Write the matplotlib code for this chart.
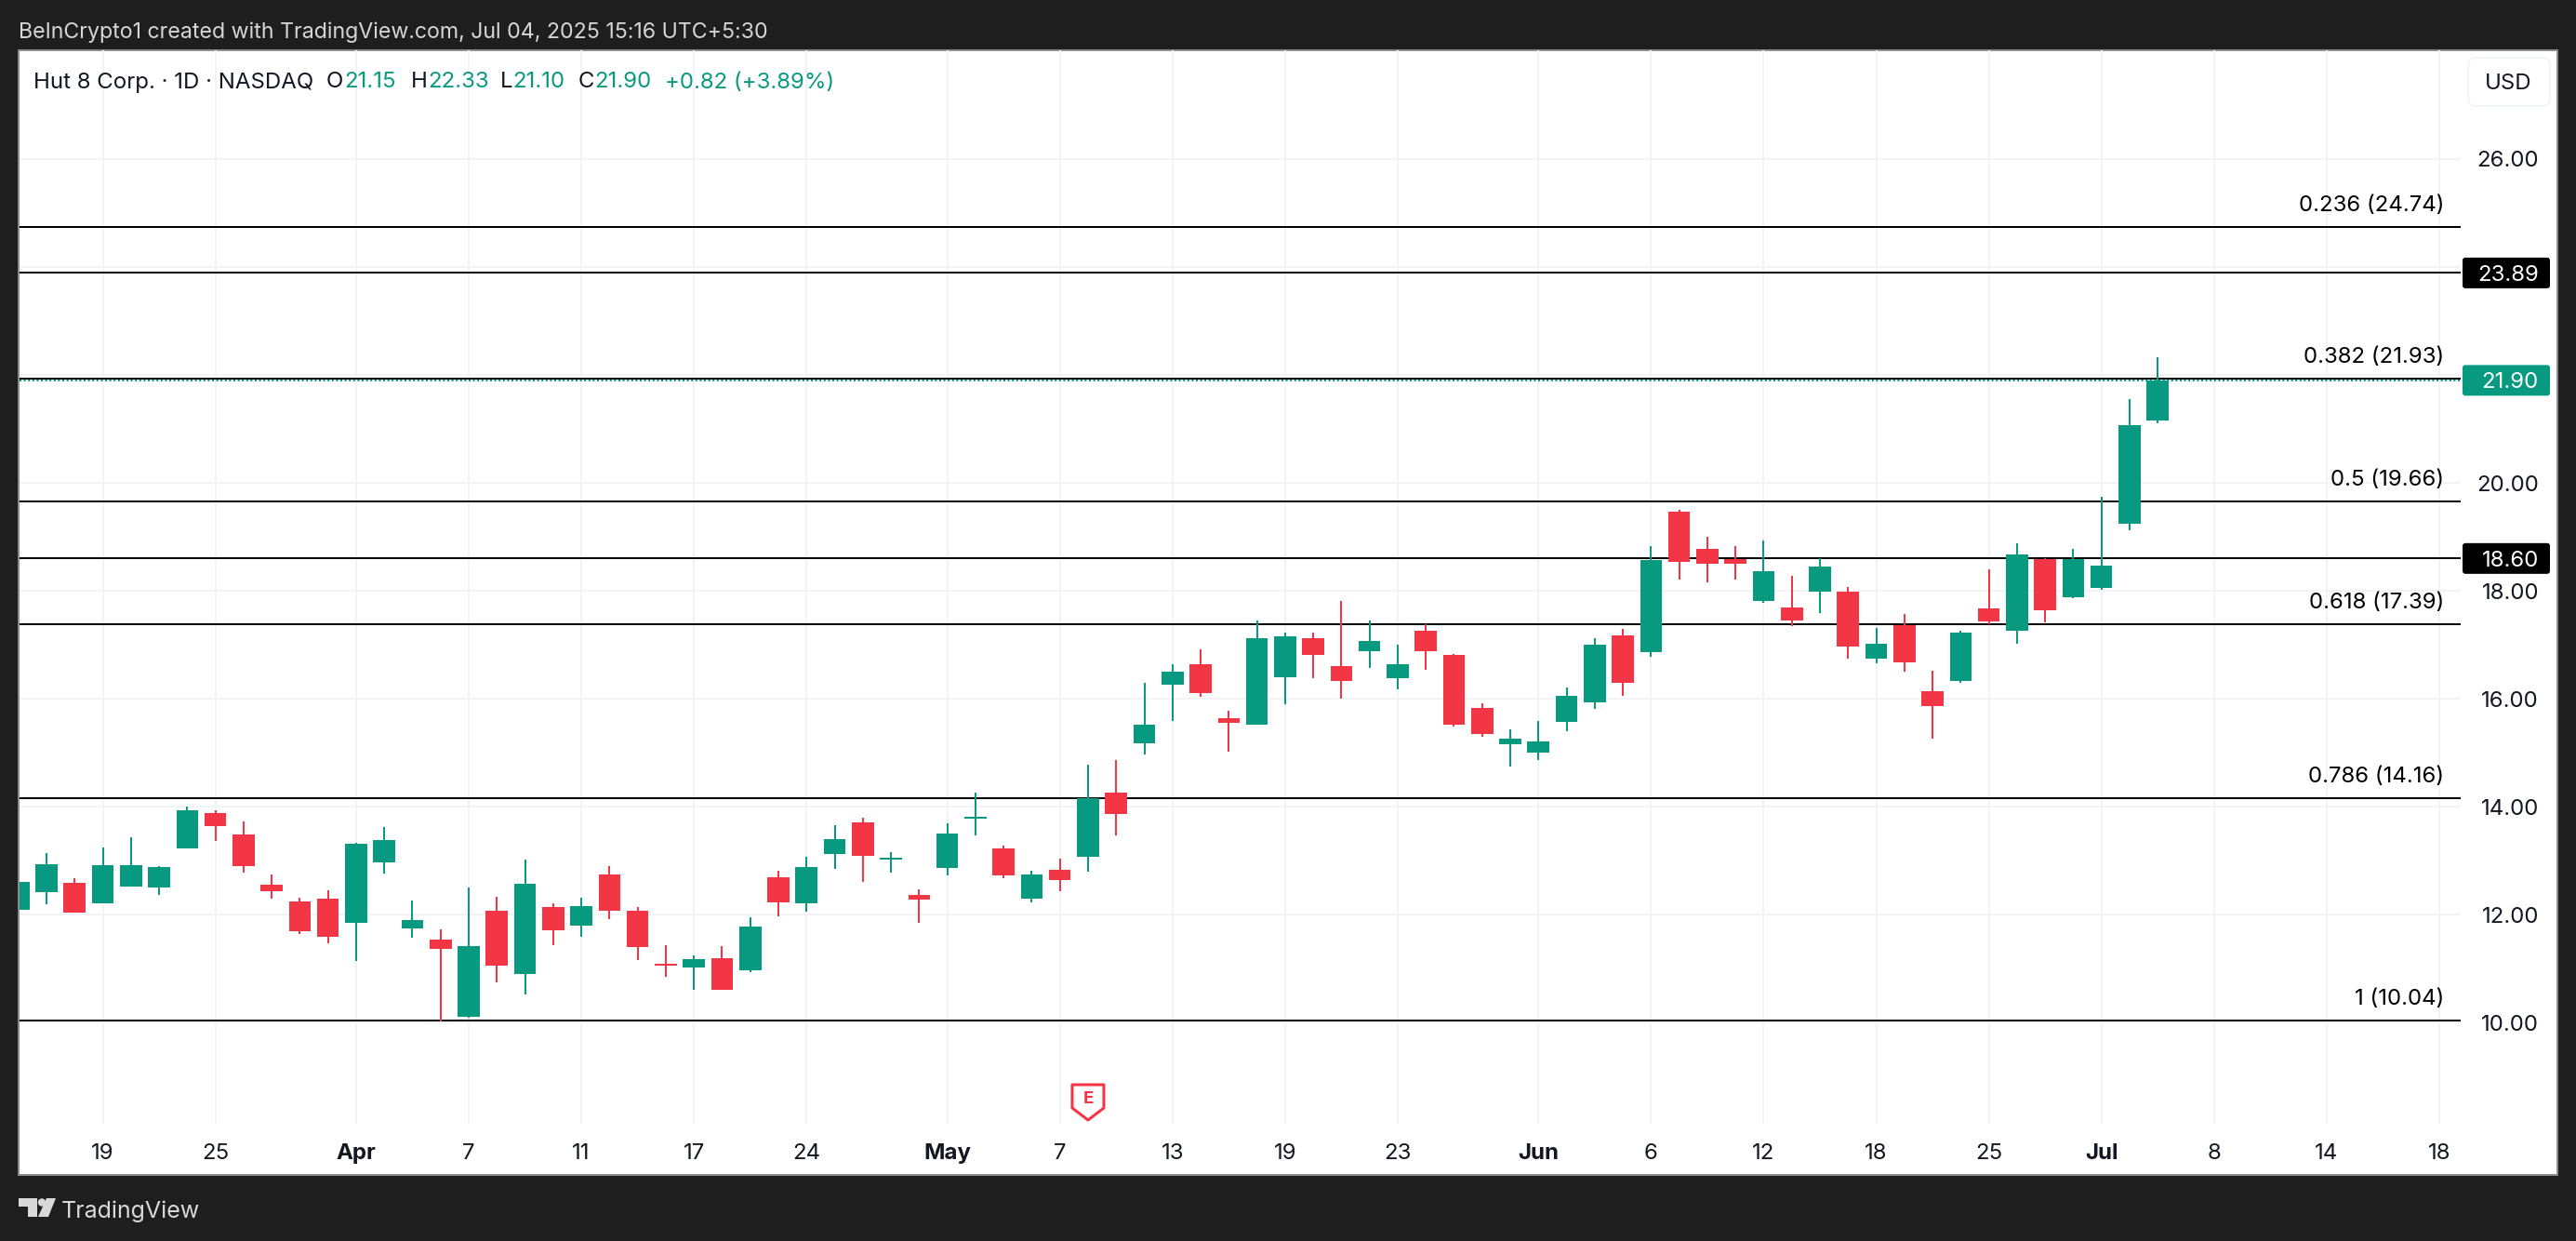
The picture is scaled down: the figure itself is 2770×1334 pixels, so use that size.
import matplotlib
matplotlib.use("Agg")
import matplotlib.pyplot as plt
from matplotlib.patches import FancyBboxPatch, Polygon, Rectangle, Circle

# ---------- data (one row per trading session, Mar 14 to Jul 3 2025) ----------
highs = [12.71,13.14,12.68,13.25,13.43,12.90,14.00,13.94,13.73,12.75,12.32,12.45,13.33,13.62,12.26,11.73,
         12.50,12.33,13.02,12.21,12.32,12.90,12.14,11.44,11.25,11.42,11.95,12.81,13.07,13.66,13.80,13.16,
         12.47,13.69,14.26,13.28,12.81,13.04,14.78,14.87,16.30,16.64,16.92,15.78,17.45,17.23,17.23,17.81,
         17.45,17.00,17.38,16.83,15.92,15.43,15.59,16.21,17.12,17.30,18.83,19.50,19.00,18.83,18.93,18.28,
         18.61,18.07,17.31,17.57,16.52,17.26,18.40,18.88,18.60,18.78,19.74,21.55,22.33]
lows = [12.00,12.19,12.04,12.21,12.52,12.37,13.23,13.37,12.78,12.30,11.64,11.47,11.14,12.76,11.57,10.03,
        10.09,10.75,10.52,11.44,11.59,11.92,11.16,10.85,10.61,10.61,10.94,11.97,12.06,12.85,12.61,12.78,
        11.85,12.73,13.47,12.68,12.23,12.44,12.80,13.47,14.97,15.59,16.04,15.02,15.52,15.90,16.38,16.00,
        16.57,16.18,16.54,15.49,15.30,14.75,14.87,15.40,15.81,16.06,16.78,18.21,18.16,18.21,17.78,17.35,
        17.59,16.74,16.66,16.50,15.26,16.30,17.38,17.02,17.42,17.86,18.02,19.12,21.10]
opens = [12.09,12.42,12.59,12.21,12.52,12.50,13.23,13.88,13.49,12.56,12.25,12.30,11.85,12.97,11.75,11.54,
         10.11,12.07,10.90,12.14,11.80,12.75,12.07,11.09,11.02,11.19,10.97,12.69,12.21,13.12,13.71,13.02,
         12.37,12.87,13.78,13.23,12.30,12.83,13.07,14.26,15.18,16.26,16.64,15.64,15.52,16.40,17.12,16.61,
         16.88,16.38,17.26,16.81,15.83,15.16,15.00,15.57,15.94,17.18,16.87,19.47,18.78,18.59,17.81,17.69,
         17.99,17.99,16.74,17.36,16.14,16.33,17.68,17.26,18.59,17.88,18.05,19.25,21.15]
closes = [12.61,12.94,12.04,12.92,12.92,12.88,13.94,13.64,12.90,12.44,11.69,11.59,13.31,13.38,11.90,11.37,
          11.42,11.06,12.57,11.71,12.16,12.07,11.40,11.06,11.18,10.61,11.78,12.23,12.88,13.40,13.09,13.06,
          12.28,13.50,13.81,12.73,12.75,12.64,14.16,13.87,15.52,16.50,16.10,15.55,17.12,17.16,16.81,16.33,
          17.07,16.64,16.88,15.52,15.35,15.26,15.21,16.06,17.00,16.30,18.57,18.54,18.50,18.50,18.36,17.45,
          18.45,16.97,17.02,16.68,15.87,17.23,17.43,18.68,17.64,18.59,18.47,21.07,21.90]

price_ticks = [10, 12, 14, 16, 18, 20, 22, 24, 26]
price_labels = ["10.00", "12.00", "14.00", "16.00", "18.00", "20.00", "", "", "26.00"]
date_ticks = [3, 7, 12, 16, 20, 24, 28, 33, 37, 41, 45, 49, 54, 58, 62, 66, 70, 74, 78, 82, 86]
date_labels = ["19", "25", "Apr", "7", "11", "17", "24", "May", "7", "13", "19", "23", "Jun", "6", "12", "18",
               "25", "Jul", "8", "14", "18"]
month_labels = ["Apr", "May", "Jun", "Jul"]

fib_ratios = ["0.236", "0.382", "0.5", "0.618", "0.786", "1"]
fib_levels = [24.74, 21.93, 19.66, 17.39, 14.16, 10.04]
extra_levels = [23.89, 18.60]
earnings_session = 38
legend_change = "+0.82 (+3.89%)"

# ---------- styling ----------
W, H = 2770, 1334
BG, INK, UP, DOWN, GRID = "#1e1e1e", "#131722", "#089981", "#f23645", "#f2f3f5"
plt.rcParams["font.family"] = ["Inter", "DejaVu Sans"]
FS = 17.3
PX = 0.72  # points per pixel at dpi 100
fig = plt.figure(figsize=(W / 100, H / 100), dpi=100, facecolor=BG)


def rect(x0, y0, x1, y1):
    return [x0 / W, 1 - y1 / H, (x1 - x0) / W, (y1 - y0) / H]


back = fig.add_axes([0, 0, 1, 1], zorder=0)
back.set_xlim(0, W); back.set_ylim(H, 0); back.axis("off")
back.add_patch(Rectangle((20, 54), 2730, 1209, fc="white", ec="#8a8a8a", lw=1.4))

# main pane: x = 19.7 + 30.27 * session, y = 1099.3 - 58.02 * (price - 10)
PANE = (20.5, 54, 2646, 1207.7)
ax = fig.add_axes(rect(*PANE), zorder=1)
ax.patch.set_alpha(0)
ax.set_xlim((PANE[0] - 19.7) / 30.27, (PANE[2] - 19.7) / 30.27)
ax.set_ylim(10 + (1099.3 - PANE[3]) / 58.02, 10 + (1099.3 - PANE[1]) / 58.02)
for s in ax.spines.values():
    s.set_visible(False)
ax.yaxis.tick_right()
ax.set_yticks(price_ticks, price_labels, fontsize=FS, color=INK)
ax.set_xticks(date_ticks, date_labels, fontsize=FS, color=INK)
ax.tick_params(axis="both", length=0)
ax.tick_params(axis="y", pad=84 * PX)
ax.tick_params(axis="x", pad=15)
for lab in ax.get_yticklabels():
    lab.set_ha("right")
for lab in ax.get_xticklabels():
    if lab.get_text() in month_labels:
        lab.set_fontweight("bold")
ax.grid(True, color=GRID, lw=2 * PX, zorder=0)
ax.set_axisbelow(True)

# horizontal levels
xl = ax.get_xlim()
ax.hlines(fib_levels + extra_levels, xl[0], xl[1], color="black", lw=2 * PX, zorder=2)
for ratio, level in zip(fib_ratios, fib_levels):
    ax.annotate(f"{ratio} ({level:.2f})", xy=(xl[1], level), xytext=(-18 * PX, 23 * PX),
                textcoords="offset points", ha="right", va="center", fontsize=FS, color="black", zorder=6)
ax.hlines(closes[-1], xl[0], xl[1], color=UP, lw=2 * PX, linestyles=(0, (1, 1.3)), zorder=3)

# candles
for i, (o, h, l, c) in enumerate(zip(opens, highs, lows, closes)):
    col = UP if c >= o else DOWN
    ax.vlines(i, l, h, color=col, lw=2 * PX, zorder=4)
    ax.bar(i, abs(c - o), bottom=min(o, c), width=0.78, color=col, lw=0, zorder=5)

ax.set_xlim(xl)

# overlay: price boxes, legend, marker, footer
top = fig.add_axes([0, 0, 1, 1], zorder=2)
top.set_xlim(0, W); top.set_ylim(H, 0); top.axis("off")
fig.canvas.draw()


def price_y(p):
    return H - ax.transData.transform((0, p))[1]


def session_x(i):
    return ax.transData.transform((i, 0))[0]


for price, fc in [(extra_levels[0], "black"), (extra_levels[1], "black"), (closes[-1], UP)]:
    y = price_y(price)
    top.add_patch(FancyBboxPatch((2650, y - 14.5), 90, 29, boxstyle="round,pad=2,rounding_size=3",
                                 fc=fc, ec="none"))
    top.text(2730, y, f"{price:.2f}", color="white", fontsize=FS, ha="right", va="center_baseline")

top.add_patch(FancyBboxPatch((2657, 65), 82, 46, boxstyle="round,pad=3,rounding_size=8",
                             fc="white", ec="#f0f3fa", lw=1.4))
top.text(2697.5, 88, "USD", color=INK, fontsize=FS, ha="center", va="center_baseline")

top.text(20, 32, "BeInCrypto1 created with TradingView.com, Jul 04, 2025 15:16 UTC+5:30",
         color="#d6d6d6", fontsize=16.7, ha="left", va="center_baseline")
top.text(36, 86, "Hut 8 Corp. · 1D · NASDAQ", color=INK, fontsize=FS, ha="left", va="center_baseline")
legend_bits = [(351, "O", INK), (370, f"{opens[-1]:.2f}", UP), (442, "H", INK), (460, f"{highs[-1]:.2f}", UP),
               (538, "L", INK), (551, f"{lows[-1]:.2f}", UP), (622, "C", INK), (639, f"{closes[-1]:.2f}", UP),
               (715, legend_change, UP)]
for x, s, col in legend_bits:
    top.text(x, 86, s, color=col, fontsize=FS, ha="left", va="center_baseline")

# earnings marker
ex = session_x(earnings_session)
top.add_patch(Polygon([(ex - 17, 1166), (ex + 17, 1166), (ex + 17, 1191), (ex, 1204), (ex - 17, 1191)],
                      closed=True, fc="white", ec=DOWN, lw=2.2, joinstyle="round"))
top.text(ex, 1181, "E", color=DOWN, fontsize=13.5, fontweight="bold", ha="center", va="center")

# footer logo
LOGO = "#d9d9d9"
top.add_patch(Polygon([(20, 1288), (40, 1288), (40, 1308), (30, 1308), (30, 1297), (20, 1297)], fc=LOGO, ec="none"))
top.add_patch(Circle((45, 1292.5), 4.2, fc=LOGO, ec="none"))
top.add_patch(Polygon([(50, 1288), (60, 1288), (52, 1308), (41, 1308)], fc=LOGO, ec="none"))
top.text(66, 1300, "TradingView", color=LOGO, fontsize=18, ha="left", va="center_baseline")

fig.savefig("out.png", dpi=100, facecolor=BG)
